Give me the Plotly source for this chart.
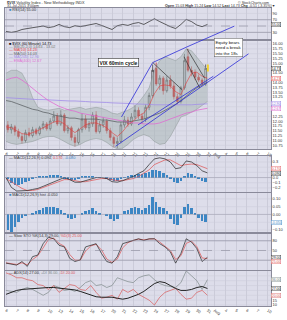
import plotly.graph_objects as go

# ---------------- data ----------------
tick_labels = ["6", "7", "8", "9", "10", "13", "14", "15", "16", "17", "20", "21", "22", "23",
               "24", "27", "28", "29", "30", "31", "Aug", "4", "5", "6", "7", "10"]
tick_days = [0, 1, 2, 3, 4, 5, 6, 7, 8, 9, 10, 11, 12, 13, 14, 15, 16, 17, 18, 19,
             19.65, 20.7, 21.7, 22.7, 23.7, 24.7]

# bar times (3 bars per session, 19 sessions) and indicator sample times (half sessions)
bar_x = [d + (k + 0.5) / 3 for d in range(19) for k in range(3)]
ind_x = [i * 0.5 for i in range(39)]

opens = [11.81, 11.56, 11.71, 11.46, 11.21, 11.00, 11.41, 11.26, 11.56, 11.36,
         11.66, 11.86, 11.61, 12.01, 12.27, 11.86, 12.32, 11.51, 11.66, 11.16,
         10.90, 11.56, 12.11, 11.66, 11.86, 12.32, 11.46, 11.81, 12.01, 11.51,
         11.16, 10.85, 10.95, 11.81, 12.06, 11.86, 12.22, 12.57, 12.27, 12.11,
         12.72, 13.33, 14.74, 13.93, 14.23, 13.58, 14.13, 13.83, 13.27, 13.02,
         13.73, 15.34, 14.64, 14.54, 14.28, 14.13, 13.93]
closes = [11.56, 11.71, 11.46, 11.21, 11.00, 11.41, 11.26, 11.56, 11.36, 11.66,
          11.86, 11.61, 12.01, 12.27, 11.86, 12.32, 11.51, 11.66, 11.16, 10.90,
          11.56, 12.11, 11.66, 11.86, 12.32, 11.46, 11.81, 12.01, 11.51, 11.16,
          10.85, 10.95, 11.81, 12.06, 11.86, 12.22, 12.57, 12.27, 12.11, 12.72,
          13.33, 14.64, 13.93, 14.23, 13.58, 14.13, 13.83, 13.27, 13.02, 13.73,
          15.14, 14.64, 14.54, 14.28, 14.13, 13.93, 14.73]
highs = [12.01, 11.86, 11.81, 11.61, 11.36, 11.56, 11.66, 11.71, 11.66, 11.76,
         12.01, 11.96, 12.16, 12.52, 12.42, 12.57, 12.42, 11.81, 11.76, 11.31,
         11.66, 12.42, 12.32, 12.01, 12.47, 12.52, 12.01, 12.22, 12.11, 11.66,
         11.26, 11.16, 11.96, 12.27, 12.22, 12.42, 12.82, 12.72, 12.42, 12.87,
         13.48, 14.94, 15.04, 14.38, 14.33, 14.33, 14.38, 14.03, 13.43, 13.83,
         15.49, 15.75, 14.84, 14.69, 14.43, 14.23, 14.94]
lows = [11.41, 11.36, 11.26, 11.10, 10.85, 10.90, 11.16, 11.16, 11.26, 11.26,
        11.56, 11.51, 11.51, 11.91, 11.76, 11.76, 11.41, 11.36, 11.00, 10.70,
        10.80, 11.41, 11.56, 11.46, 11.71, 11.36, 11.36, 11.66, 11.36, 11.00,
        10.65, 10.60, 10.85, 11.66, 11.71, 11.76, 12.11, 12.11, 11.86, 11.96,
        12.57, 13.22, 13.83, 13.63, 13.38, 13.48, 13.68, 13.12, 12.87, 12.92,
        13.63, 14.54, 14.33, 14.13, 14.03, 13.83, 13.83]

bb_upper = [14.49, 14.64, 14.64, 14.49, 13.98, 13.22, 12.72, 12.62, 12.57, 12.62,
            12.67, 12.57, 12.62, 12.67, 12.72, 12.62, 12.67, 12.72, 12.67, 12.57,
            12.42, 12.37, 12.47, 12.57, 12.72, 12.97, 13.32, 13.73, 14.64, 15.14,
            15.34, 15.24, 15.14, 15.34, 15.75, 15.65, 15.34, 14.99, 14.64]
bb_lower = [10.95, 10.85, 10.80, 10.85, 10.90, 10.95, 11.05, 11.16, 11.21, 11.21,
            11.10, 10.95, 10.80, 10.70, 10.80, 10.95, 11.05, 11.10, 11.05, 10.90,
            10.70, 10.57, 10.60, 10.80, 11.05, 11.21, 11.31, 11.21, 10.95, 10.80,
            10.85, 11.21, 11.71, 12.22, 12.32, 12.47, 12.62, 12.82, 13.02]
ma_short = [11.71, 11.66, 11.51, 11.36, 11.31, 11.41, 11.51, 11.66, 11.81, 11.96,
            12.01, 11.86, 11.61, 11.41, 11.61, 11.81, 11.91, 11.91, 11.81, 11.66,
            11.41, 11.21, 11.46, 11.81, 12.01, 12.27, 12.42, 12.82, 13.43, 13.83,
            13.88, 13.83, 13.53, 13.38, 13.98, 14.49, 14.54, 14.33, 14.23]
ma_mid = [13.07, 13.02, 12.92, 12.82, 12.72, 12.62, 12.57, 12.47, 12.42, 12.32,
          12.27, 12.22, 12.16, 12.16, 12.11, 12.11, 12.11, 12.11, 12.06, 12.06,
          12.01, 11.96, 11.96, 11.96, 12.01, 12.06, 12.11, 12.22, 12.32, 12.42,
          12.57, 12.72, 12.87, 13.07, 13.32, 13.53, 13.73, 13.88, 14.03]
ma_long = [13.22, 13.20, 13.17, 13.17, 13.15, 13.15, 13.12, 13.12, 13.10, 13.10,
           13.07, 13.07, 13.05, 13.05, 13.02, 13.02, 13.00, 13.00, 12.97, 12.97,
           12.95, 12.95, 12.92, 12.92, 12.90, 12.90, 12.87, 12.87, 12.85, 12.85,
           12.82, 12.82, 12.82, 12.82, 12.85, 12.85, 12.87, 12.87, 12.90]
ma_pink = [14.13, 14.23, 14.28, 14.13, 13.93, 13.68, 13.48, 13.27, 13.07, 12.92,
           12.77, 12.67, 12.57, 12.52, 12.42, 12.37, 12.32, 12.27, 12.22, 12.16,
           12.11, 12.06, 12.01, 11.96, 11.91, 11.91, 11.86, 11.86, 11.86, 11.91,
           12.01, 12.11, 12.22, 12.32, 12.42, 12.47, 12.57, 12.62, 12.67]

rsi = [33, 30, 33, 39, 42, 45, 48, 50, 45, 48, 55, 48, 45, 51, 48, 52, 55, 58, 52, 45,
       39, 51, 55, 52, 58, 61, 55, 64, 73, 64, 55, 48, 42, 55, 71, 64, 53, 48, 55]

macd_line = [0.00, -0.19, -0.26, -0.26, -0.25, -0.23, -0.21, -0.17, -0.13, -0.09,
             -0.04, 0.00, -0.04, -0.09, -0.09, -0.06, -0.02, 0.00, 0.00, -0.02,
             -0.08, -0.09, -0.06, -0.02, 0.02, 0.08, 0.13, 0.25, 0.36, 0.38,
             0.36, 0.30, 0.17, 0.19, 0.32, 0.30, 0.23, 0.13, 0.09]
macd_signal = [-0.02, -0.08, -0.15, -0.21, -0.25, -0.25, -0.23, -0.19, -0.15, -0.11,
               -0.08, -0.04, -0.04, -0.06, -0.08, -0.08, -0.06, -0.04, -0.02, -0.02,
               -0.04, -0.06, -0.06, -0.04, -0.02, 0.02, 0.08, 0.15, 0.25, 0.30,
               0.34, 0.34, 0.28, 0.23, 0.25, 0.26, 0.25, 0.21, 0.17]
macd_hist = [-0.03, -0.10, -0.14, -0.15, -0.12, -0.08, -0.06, -0.03, 0.01, 0.02,
             0.03, 0.03, 0.04, 0.05, 0.04, 0.03, -0.01, -0.03, -0.04, -0.04,
             -0.01, 0.02, 0.03, 0.03, 0.03, 0.01, 0.01, 0.00, -0.03, -0.05,
             -0.07, -0.07, -0.03, 0.01, 0.02, 0.04, 0.05, 0.06, 0.06, 0.08,
             0.10, 0.14, 0.15, 0.12, 0.08, 0.04, -0.03, -0.08, -0.11, -0.07,
             0.03, 0.08, 0.07, 0.02, -0.03, -0.06, -0.08]
hist2 = [-0.10, -0.11, -0.08, -0.05, -0.02, -0.01, 0.00, 0.01, 0.02, 0.03,
         0.04, 0.05, 0.05, 0.05, 0.04, 0.03, 0.01, -0.02, -0.03, -0.02,
         0.00, 0.01, 0.02, 0.03, 0.04, 0.02, 0.01, 0.00, -0.01, -0.03,
         -0.04, -0.03, 0.00, 0.02, 0.03, 0.04, 0.05, 0.04, 0.03, 0.04,
         0.06, 0.11, 0.08, 0.05, 0.04, 0.02, -0.03, -0.06, -0.07, -0.02,
         0.05, 0.07, 0.04, 0.01, -0.02, -0.04, -0.05]

stoch_k = [11, 8, 5, 16, 1, 31, 36, 71, 91, 86, 66, 61, 26, 16, 21, 61, 66, 71, 41, 16,
           11, 31, 71, 76, 83, 86, 81, 86, 86, 71, 61, 46, 11, 41, 86, 76, 56, 16, 29]
stoch_d = [12, 10, 7, 12, 6, 22, 34, 58, 84, 88, 72, 63, 38, 20, 20, 48, 64, 69, 52, 24,
           13, 24, 58, 74, 81, 85, 83, 85, 86, 76, 64, 50, 22, 34, 72, 79, 62, 27, 25]

adx = [21, 23, 25, 26, 26.5, 27, 27.5, 28, 28, 28, 27.5, 27, 26.5, 25.5, 24, 22, 20, 18.5,
       18, 18, 18, 17, 16, 17, 19, 21, 24, 28, 32, 34, 33, 30, 27, 25, 25, 26, 28, 29, 27]
plus_di = [25, 24, 23, 26, 28, 26, 23, 20, 23, 30, 28, 25, 26, 24, 28, 33, 35, 30, 31, 28,
           30, 38, 36, 34, 33, 38, 40, 41, 36, 32, 30, 29, 28, 33, 45, 40, 35, 26, 36]
minus_di = [43, 41, 38, 38, 36, 35, 31, 30, 26, 30, 23, 27, 31, 30, 26, 25, 30, 23, 17, 18,
            20, 16, 26, 23, 26, 21, 18, 15, 10, 18, 23, 25, 27, 21, 16, 17, 23, 25, 20]

# trend lines drawn on the price panel: (day0, price0, day1, price1)
blue_lines = [(10.33, 10.70, 22.88, 15.49),
              (12.45, 11.81, 19.56, 14.33),
              (10.89, 12.22, 13.84, 15.04),
              (13.84, 15.04, 17.07, 15.85)]
blue_ext = (17.07, 15.85, 21.68, 16.96)
dark_lines = [(13.84, 15.04, 16.61, 13.63),
              (17.07, 15.75, 18.73, 14.23),
              (16.79, 15.34, 18.27, 13.73)]

# ---------------- styling ----------------
FONT = "Liberation Sans"
BG = "#DDDDEA"
GRID = "#CBCBD9"
BORDER = "#8A8A9A"
W, H = 287, 320
ML, MR, MT, MB = 4, 11, 8, 6
PH = H - MT - MB


def fy(py):
    return (H - MB - py) / PH


def fx(px):
    return (px - ML) / (W - ML - MR)


domains = {
    1: [fy(40), fy(8)],
    2: [fy(153), fy(42)],
    3: [fy(197), fy(160)],
    4: [fy(238), fy(198)],
    5: [fy(277), fy(240)],
    6: [fy(314), fy(278)],
}
yranges = {1: [8.5, 107], 2: [10.55, 16.15], 3: [-0.28, 0.415], 4: [-0.1125, 0.1375],
           5: [-10, 101], 6: [9, 45]}
yticks = {1: [90, 70, 50, 30],
          2: [10.75 + 0.25 * i for i in range(22)],
          3: [0.3, 0.2, 0.1, 0.0, -0.1, -0.2],
          4: [0.10, 0.05, 0.0, -0.05, -0.10],
          5: [80, 50, 20],
          6: [40, 35, 30, 25, 20, 15, 10]}
yfmt = {1: ".0f", 2: ".2f", 3: ".1f", 4: ".2f", 5: ".0f", 6: ".0f"}

# current-value boxes on the right axis: panel -> list of (value, colour, format)
boxes = {
    1: [(rsi[-1], "#222", ".2f")],
    2: [(closes[-1], "#111", ".2f"), (ma_short[-1], "#E23A3A", ".2f"),
        (ma_long[-1], "#8A70E0", ".2f"), (ma_pink[-1], "#D050C0", ".2f")],
    3: [(macd_signal[-1], "#E05050", ".3f"), (macd_line[-1], "#222", ".3f")],
    4: [(hist2[-1], "#3C86C4", ".3f")],
    5: [(stoch_k[-1], "#222", ".2f"), (stoch_d[-1], "#E05050", ".2f")],
    6: [(plus_di[-1], "#6E7A7A", ".2f"), (adx[-1], "#222", ".2f"), (minus_di[-1], "#D85A5A", ".2f")],
}
BOX_H = 4.6

fig = go.Figure()


def ax(i):
    return ("x" if i == 1 else f"x{i}"), ("y" if i == 1 else f"y{i}")


def line(x, y, i, color, width=0.7, **kw):
    xa, ya = ax(i)
    fig.add_trace(go.Scatter(x=x, y=y, mode="lines", line=dict(color=color, width=width),
                             xaxis=xa, yaxis=ya, hoverinfo="skip", **kw))


# RSI
line(ind_x, rsi, 1, "#222222", 0.7)

# Price panel
line(ind_x, bb_upper, 2, "#8C9696", 0.5)
line(ind_x, bb_lower, 2, "#8C9696", 0.5, fill="tonexty", fillcolor="rgba(170,182,182,0.55)")
line(ind_x, ma_long, 2, "#A28EE8", 0.8)
line(ind_x, ma_pink, 2, "#E06CD2", 0.8)
line(ind_x, ma_mid, 2, "#606468", 0.8)
line(ind_x, ma_short, 2, "#E23A3A", 0.6)
fig.add_trace(go.Candlestick(
    x=bar_x, open=opens, high=highs, low=lows, close=closes, xaxis="x2", yaxis="y2",
    increasing=dict(line=dict(color="#111111", width=0.6), fillcolor="rgba(0,0,0,0)"),
    decreasing=dict(line=dict(color="#C00000", width=0.6), fillcolor="#D80000"),
    whiskerwidth=0, hoverinfo="skip"))

# MACD
fig.add_trace(go.Bar(x=bar_x, y=macd_hist, width=0.24, marker=dict(color="#3C86C4", line=dict(width=0)),
                     xaxis="x3", yaxis="y3", hoverinfo="skip"))
line(ind_x, macd_signal, 3, "#E05050", 0.7)
line(ind_x, macd_line, 3, "#222222", 0.7)

# Histogram panel
fig.add_trace(go.Bar(x=bar_x, y=hist2, width=0.24, marker=dict(color="#3C86C4", line=dict(width=0)),
                     xaxis="x4", yaxis="y4", hoverinfo="skip"))

# Stochastics
line(ind_x, stoch_d, 5, "#E05050", 0.7)
line(ind_x, stoch_k, 5, "#222222", 0.7)

# ADX
line(ind_x, plus_di, 6, "#7E8A8A", 0.7)
line(ind_x, minus_di, 6, "#D85A5A", 0.7)
line(ind_x, adx, 6, "#222222", 1.0)


def px_of(i, v):
    r0, r1 = yranges[i]
    hpx = (domains[i][1] - domains[i][0]) * PH
    return (v - r0) / (r1 - r0) * hpx


# place value boxes (keep them apart) and hide tick labels they would cover
ann = []
tick_keep = {}
for i, items in boxes.items():
    placed = []
    for v, c, f in sorted(items, key=lambda t: -t[0]):
        p = px_of(i, v)
        shift = 0.0
        if placed and placed[-1] - p < BOX_H:
            shift = (placed[-1] - BOX_H) - p
        placed.append(p + shift)
        ann.append(dict(x=1.0, y=v, xref="paper", yref=ax(i)[1], xanchor="left", yanchor="middle",
                        yshift=shift, text=format(v, f), showarrow=False,
                        font=dict(size=3.5, color=c), bgcolor="white", bordercolor=c,
                        borderwidth=0.4, borderpad=0.3))
    tick_keep[i] = [t for t in yticks[i] if all(abs(px_of(i, t) - q) > 4.2 for q in placed)]

layout = dict(
    width=W, height=H, margin=dict(l=ML, r=MR, t=MT, b=MB),
    paper_bgcolor="white", plot_bgcolor=BG, showlegend=False, bargap=0,
    font=dict(family=FONT, size=4, color="#333333"),
)
xr = [-0.1, 25.0]
for i in range(1, 7):
    xa, ya = ax(i)
    xkey = "xaxis" if i == 1 else f"xaxis{i}"
    ykey = "yaxis" if i == 1 else f"yaxis{i}"
    layout[xkey] = dict(domain=[0, 1], anchor=ya, range=xr, tickvals=tick_days, ticktext=tick_labels,
                        showticklabels=(i in (2, 6)), showgrid=True, gridcolor=GRID, gridwidth=0.5,
                        zeroline=False, showline=True, mirror=True, linecolor=BORDER, linewidth=0.6,
                        ticks="", tickfont=dict(size=4, color="#333"), fixedrange=True,
                        rangeslider=dict(visible=False))
    if i > 1:
        layout[xkey]["matches"] = "x"
    ygrid = dict(domain=domains[i], anchor=xa, side="right", range=yranges[i],
                 tickvals=tick_keep[i], tickformat=yfmt[i], showgrid=False,
                 zeroline=False, showline=True, mirror=True, linecolor=BORDER,
                 linewidth=0.6, ticks="", tickfont=dict(size=4, color="#333"), fixedrange=True)
    layout[ykey] = ygrid
fig.update_layout(**layout)

# reference lines and horizontal grid
shapes = []
for i in range(1, 7):
    xa, ya = ax(i)
    for t in yticks[i]:
        shapes.append(dict(type="line", xref=f"{xa} domain", yref=ya, x0=0, x1=1, y0=t, y1=t,
                           layer="below", line=dict(color=GRID, width=0.5)))
for yv, dash in ((70, "solid"), (50, "dash"), (30, "solid")):
    shapes.append(dict(type="line", xref="x domain", yref="y", x0=0, x1=1, y0=yv, y1=yv,
                       line=dict(color="#8A8A9A", width=0.6, dash=dash)))
for yv, dash in ((80, "solid"), (50, "dash"), (20, "solid")):
    shapes.append(dict(type="line", xref="x5 domain", yref="y5", x0=0, x1=1, y0=yv, y1=yv,
                       line=dict(color="#8A8A9A", width=0.6, dash=dash)))
shapes.append(dict(type="line", xref="x3 domain", yref="y3", x0=0, x1=1, y0=0, y1=0,
                   line=dict(color="#9A9AAA", width=0.5)))
shapes.append(dict(type="line", xref="x4 domain", yref="y4", x0=0, x1=1, y0=0, y1=0,
                   line=dict(color="#9A9AAA", width=0.5)))
for (a, b, c, d) in blue_lines:
    shapes.append(dict(type="line", xref="x2", yref="y2", x0=a, y0=b, x1=c, y1=d,
                       line=dict(color="#2D2DD8", width=0.8)))
for (a, b, c, d) in dark_lines:
    shapes.append(dict(type="line", xref="x2", yref="y2", x0=a, y0=b, x1=c, y1=d,
                       line=dict(color="#333333", width=0.7)))
shapes.append(dict(type="rect", xref="x2", yref="y2", x0=bar_x[-1] + 0.12, x1=bar_x[-1] + 0.3,
                   y0=closes[-1] - 0.15, y1=highs[-1], fillcolor="#F2D12A", line=dict(width=0)))
fig.update_layout(shapes=shapes)

# continuation of upper wedge line beyond the panel top
ann.append(dict(x=blue_ext[0], y=blue_ext[1], ax=blue_ext[2], ay=blue_ext[3], xref="x2", yref="y2",
                axref="x2", ayref="y2", showarrow=True, arrowhead=0, arrowwidth=0.8,
                arrowcolor="#2D2DD8", text="", standoff=0, startstandoff=0))
# text boxes
ann.append(dict(x=10.61, y=15.04, xref="x2", yref="y2", text="<b>VIX 60min cycle</b>",
                showarrow=False, font=dict(size=5, color="#111", family=FONT), bgcolor="white",
                bordercolor="#333", borderwidth=0.6, borderpad=1))
ann.append(dict(x=21.03, y=15.80, xref="x2", yref="y2",
                text="Equity bears<br>need a break<br>into the 18s", align="left",
                showarrow=False, font=dict(size=4.3, color="#111", family=FONT), bgcolor="white",
                bordercolor="#555", borderwidth=0.5, borderpad=1))

# header
ann.append(dict(x=0, y=fy(2.5), xref="paper", yref="paper", xanchor="left", yanchor="middle",
                text="<b>$VIX</b> Volatility Index - New Methodology INDX", showarrow=False,
                font=dict(size=3.8, color="#333")))
ann.append(dict(x=0, y=fy(5.8), xref="paper", yref="paper", xanchor="left", yanchor="middle",
                text="31-Jul-2015 3:00pm", showarrow=False, font=dict(size=3.6, color="#333")))
ann.append(dict(x=1.0, y=fy(2.5), xref="paper", yref="paper", xanchor="right", yanchor="middle",
                text="© StockCharts.com", showarrow=False, font=dict(size=3.6, color="#333")))
ann.append(dict(x=fx(282), y=fy(5.8), xref="paper", yref="paper", xanchor="right", yanchor="middle",
                text=f"<b>Open</b> 15.03 <b>High</b> 15.24 <b>Low</b> 14.52 <b>Last</b> {closes[-1]:.2f} "
                     "<b>Chg</b> -0.51 (-3.35%)▼",
                showarrow=False, font=dict(size=3.6, color="#333")))


def legend(py, parts, x=fx(6)):
    txt = "".join(f"<span style='color:{c}'>{t}</span>" for t, c in parts)
    ann.append(dict(x=x, y=fy(py), xref="paper", yref="paper", xanchor="left", yanchor="middle",
                    text=txt, showarrow=False, font=dict(size=3.8)))


legend(10.5, [("■ ", "#3C86C4"), (f"RSI(14) {rsi[-1]:.2f}", "#333")])
legend(44.5, [("■ ", "#111"), (f"$VIX (60 Minute) {closes[-1]:.2f}", "#111")])
legend(48.0, [("— ", "#8C9696"), (f"BB(20,2.0) {bb_upper[-1]:.2f} - {bb_lower[-1]:.2f}", "#777")])
legend(51.5, [("— ", "#E23A3A"), (f"MA(10) {ma_short[-1]:.2f}", "#E23A3A")])
legend(55.0, [("— ", "#606468"), (f"MA(50) {ma_mid[-1]:.2f}", "#606468")])
legend(58.5, [("— ", "#A28EE8"), (f"MA(200) {ma_long[-1]:.2f}", "#A28EE8")])
legend(62.0, [("— ", "#E06CD2"), (f"EMA(400) {ma_pink[-1]:.2f}", "#E06CD2")])
legend(162.5, [("— ", "#222"), (f"MACD(12,26,9) {macd_line[-1]:.3f}, ", "#333"),
               (f"{macd_signal[-1]:.3f}", "#E05050"), (f", {macd_hist[-1]:.3f}", "#3C86C4")])
legend(200.5, [("■ ", "#3C86C4"), (f"MACD(12,26,9) hist {hist2[-1]:.3f}", "#333")])
legend(242.5, [("— ", "#222"), (f"Slow STO %K(14,3) {stoch_k[-1]:.2f}, ", "#333"),
               (f"%D(3) {stoch_d[-1]:.2f}", "#E05050")])
legend(280.5, [("— ", "#222"), (f"ADX(14) {adx[-1]:.2f}, ", "#333"), (f"+DI {plus_di[-1]:.2f}, ", "#7E8A8A"),
               (f"-DI {minus_di[-1]:.2f}", "#D85A5A")])

fig.update_layout(annotations=ann)
fig.write_html("out.html")
